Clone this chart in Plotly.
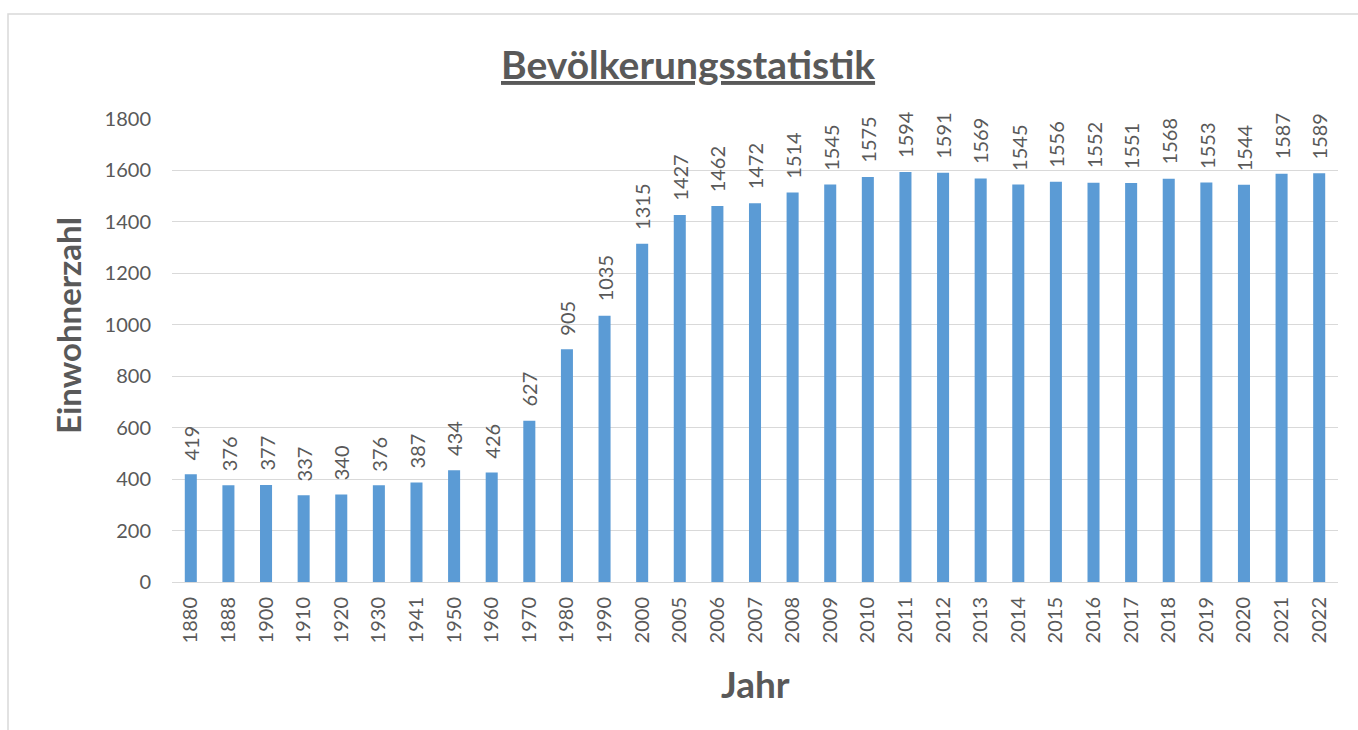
import plotly.graph_objects as go

years = ["1880", "1888", "1900", "1910", "1920", "1930", "1941", "1950", "1960", "1970",
         "1980", "1990", "2000", "2005", "2006", "2007", "2008", "2009", "2010", "2011",
         "2012", "2013", "2014", "2015", "2016", "2017", "2018", "2019", "2020", "2021", "2022"]
population = [419, 376, 377, 337, 340, 376, 387, 434, 426, 627,
              905, 1035, 1315, 1427, 1462, 1472, 1514, 1545, 1575, 1594,
              1591, 1569, 1545, 1556, 1552, 1551, 1568, 1553, 1544, 1587, 1589]
y_ticks = [0, 200, 400, 600, 800, 1000, 1200, 1400, 1600, 1800]

FONT = "Lato, 'Open Sans', sans-serif"
GRAY = "#595959"

L, R, T, B = 172, 20, 119, 148
W, H = 1358, 730
pw, ph = W - L - R, H - T - B


def px_x(p):
    return (p - L) / pw


def px_y(p):
    return (H - B - p) / ph


fig = go.Figure()
fig.add_trace(go.Bar(
    x=years, y=population,
    marker=dict(color="#5B9BD5", line=dict(width=0)),
    hoverinfo="skip",
))

annotations = []
for i, v in enumerate(population):
    annotations.append(dict(
        x=i, y=v, xref="x", yref="y", text=str(v), showarrow=False,
        textangle=-90, yanchor="bottom", xanchor="center", yshift=12,
        font=dict(family=FONT, size=20, color=GRAY)))

annotations.append(dict(
    text="<b>Einwohnerzahl</b>", xref="paper", yref="paper",
    x=px_x(68), y=px_y(326), xanchor="center", yanchor="middle",
    textangle=-90, showarrow=False,
    font=dict(family=FONT, size=33, color=GRAY)))
annotations.append(dict(
    text="<b>Jahr</b>", xref="paper", yref="paper",
    x=px_x(755), y=px_y(683), xanchor="center", yanchor="middle",
    showarrow=False, font=dict(family=FONT, size=37, color=GRAY)))
annotations.append(dict(
    text="<b><u>Bevölkerungsstatistik</u></b>", xref="paper", yref="paper",
    x=px_x(688), y=px_y(64), xanchor="center", yanchor="middle",
    showarrow=False, font=dict(family=FONT, size=39, color=GRAY)))

fig.update_layout(
    width=W, height=H,
    margin=dict(l=L, r=R, t=T, b=B, autoexpand=False),
    paper_bgcolor="white", plot_bgcolor="white",
    bargap=0.68,
    showlegend=False,
    font=dict(family=FONT, color=GRAY),
    xaxis=dict(type="category", range=[-0.5, len(years) - 0.5], tickangle=-90,
               tickfont=dict(size=20, color=GRAY),
               showgrid=False, showline=False, ticks="", ticklabelstandoff=10,
               automargin=False),
    yaxis=dict(range=[0, 1800], tickvals=y_ticks, tickfont=dict(size=20, color=GRAY),
               showgrid=True, gridcolor="#D9D9D9", gridwidth=1,
               zeroline=True, zerolinecolor="#D9D9D9", zerolinewidth=1,
               showline=False, ticks="", ticklabelstandoff=20, automargin=False),
    annotations=annotations,
    shapes=[dict(type="rect", xref="paper", yref="paper",
                 x0=px_x(8), x1=px_x(W + 5),
                 y0=px_y(H + 5), y1=px_y(14),
                 line=dict(color="#D9D9D9", width=1.5), fillcolor="rgba(0,0,0,0)", layer="below")],
)

fig.write_html("out.html", config={"displayModeBar": False},
               post_script="document.body.style.margin='0';")
